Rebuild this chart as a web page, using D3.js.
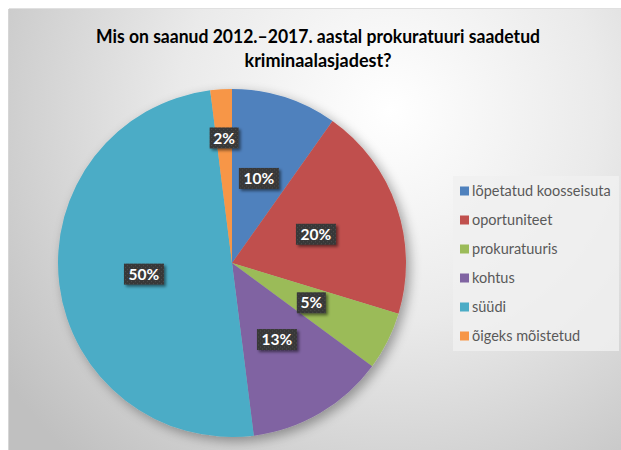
<!DOCTYPE html>
<html>
<head>
<meta charset="utf-8">
<script src="https://cdn.jsdelivr.net/npm/d3@7"></script>
<style>
  html, body { margin: 0; padding: 0; background: #ffffff; }
  svg { display: block; }
</style>
</head>
<body>
<svg id="chart" width="621" height="450"></svg>
<script>
// ---- data ----
const titleLines = ["Mis on saanud 2012.–2017. aastal prokuratuuri saadetud", "kriminaalasjadest?"];
const categories = ["lõpetatud koosseisuta", "oportuniteet", "prokuratuuris", "kohtus", "süüdi", "õigeks mõistetud"];
const values = [9.8, 19.9, 5.4, 12.9, 50.0, 2.0];
const colors = ["#4F81BD", "#C0504D", "#9BBB59", "#8064A2", "#4BACC6", "#F79646"];

// ---- layout ----
const W = 621, H = 450;
const svg = d3.select("#chart");
const defs = svg.append("defs");

const bg = defs.append("radialGradient").attr("id", "bg")
  .attr("gradientUnits", "userSpaceOnUse")
  .attr("cx", 390).attr("cy", 110).attr("r", 470);
bg.append("stop").attr("offset", "0").attr("stop-color", "#ffffff");
bg.append("stop").attr("offset", "0.45").attr("stop-color", "#eaeaea");
bg.append("stop").attr("offset", "1").attr("stop-color", "#c0c0c0");

const sh = defs.append("filter").attr("id", "pieShadow")
  .attr("x", "-20%").attr("y", "-20%").attr("width", "140%").attr("height", "140%");
sh.append("feGaussianBlur").attr("in", "SourceAlpha").attr("stdDeviation", 6).attr("result", "b");
sh.append("feOffset").attr("in", "b").attr("dx", 4).attr("dy", 4).attr("result", "o");
sh.append("feComponentTransfer").attr("in", "o").attr("result", "oa")
  .append("feFuncA").attr("type", "linear").attr("slope", 0.35);
const m1 = sh.append("feMerge");
m1.append("feMergeNode").attr("in", "oa");
m1.append("feMergeNode").attr("in", "SourceGraphic");

const lsh = defs.append("filter").attr("id", "lblShadow")
  .attr("x", "-30%").attr("y", "-30%").attr("width", "170%").attr("height", "170%");
lsh.append("feGaussianBlur").attr("in", "SourceAlpha").attr("stdDeviation", 1.5).attr("result", "b");
lsh.append("feOffset").attr("in", "b").attr("dx", 2).attr("dy", 2).attr("result", "o");
lsh.append("feComponentTransfer").attr("in", "o").attr("result", "oa")
  .append("feFuncA").attr("type", "linear").attr("slope", 0.5);
const m2 = lsh.append("feMerge");
m2.append("feMergeNode").attr("in", "oa");
m2.append("feMergeNode").attr("in", "SourceGraphic");

const pat = defs.append("pattern").attr("id", "dots")
  .attr("patternUnits", "userSpaceOnUse").attr("width", 4).attr("height", 4);
pat.append("rect").attr("width", 4).attr("height", 4).attr("fill", "#383838");
pat.append("rect").attr("x", 1).attr("y", 1).attr("width", 1).attr("height", 1).attr("fill", "#4e4e4e");
pat.append("rect").attr("x", 3).attr("y", 3).attr("width", 1).attr("height", 1).attr("fill", "#4e4e4e");

// panel
svg.append("rect").attr("x", 9).attr("y", 9).attr("width", W - 9).attr("height", H - 9)
  .attr("fill", "url(#bg)");
svg.append("line").attr("x1", 8.5).attr("x2", 8.5).attr("y1", 9).attr("y2", H)
  .attr("stroke", "#d6d6d6");
svg.append("line").attr("x1", 9).attr("x2", W).attr("y1", 8.5).attr("y2", 8.5)
  .attr("stroke", "#e0e0e0");

// title
const title = svg.append("g").attr("font-family", "Lato, 'Open Sans', sans-serif")
  .attr("font-weight", "bold").attr("font-size", 19).attr("fill", "#000");
const titleWidths = [444, 147];
title.selectAll("text").data(titleLines).join("text")
  .attr("x", 318).attr("y", (d, i) => 43 + i * 24)
  .attr("text-anchor", "middle")
  .attr("textLength", (d, i) => titleWidths[i])
  .attr("lengthAdjust", "spacingAndGlyphs")
  .text(d => d);

// pie
const cx = 232, cy = 263, R = 174;
const total = d3.sum(values);
const pie = d3.pie().sort(null).value(d => d)(values);
const arc = d3.arc().innerRadius(0).outerRadius(R);
const g = svg.append("g").attr("transform", `translate(${cx},${cy})`);
g.append("g").attr("filter", "url(#pieShadow)")
  .selectAll("path").data(pie).join("path")
  .attr("d", arc)
  .attr("fill", (d, i) => colors[i]);

// labels
const fmt = d3.format(".0%");
const lg = g.append("g");
pie.forEach((d, i) => {
  const frac = d.value / total;
  const lr = frac < 0.03 ? R * 0.72 : R * 0.51;
  const c = d3.arc().innerRadius(lr).outerRadius(lr).centroid(d);
  const txt = fmt(frac);
  const bw = txt.length > 2 ? 40 : 29, bh = 21;
  const node = lg.append("g").attr("transform", `translate(${c[0]},${c[1]})`);
  node.append("rect").attr("x", -bw / 2).attr("y", -bh / 2).attr("width", bw).attr("height", bh)
    .attr("fill", "url(#dots)").attr("filter", "url(#lblShadow)");
  node.append("text").attr("text-anchor", "middle").attr("dy", "0.36em")
    .attr("font-family", "Lato, 'Open Sans', sans-serif").attr("font-weight", "bold")
    .attr("font-size", 15.5).attr("fill", "#ffffff")
    .text(txt);
});

// legend
const legend = svg.append("g");
legend.append("rect").attr("x", 453).attr("y", 176).attr("width", 166).attr("height", 175)
  .attr("fill", "#f0f0f0").attr("fill-opacity", 0.85);
const yL = d3.scalePoint().domain(categories).range([191, 336]);
const items = legend.selectAll("g.item").data(categories).join("g").attr("class", "item")
  .attr("transform", d => `translate(460,${yL(d)})`);
items.append("rect").attr("x", 0).attr("y", -4.5).attr("width", 9).attr("height", 9)
  .attr("fill", (d, i) => colors[i]);
items.append("text").attr("x", 12).attr("dy", "0.36em")
  .attr("font-family", "Lato, 'Open Sans', sans-serif").attr("font-size", 14.5)
  .attr("fill", "#595959")
  .text(d => d);
</script>
</body>
</html>
